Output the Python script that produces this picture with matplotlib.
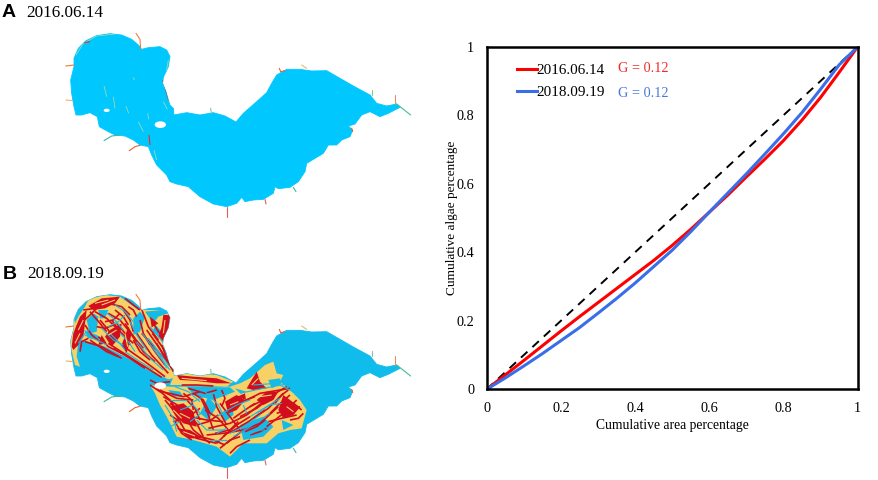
import matplotlib
matplotlib.use('Agg')
import matplotlib.pyplot as plt
from matplotlib.collections import LineCollection
from matplotlib.patches import Ellipse, Polygon
import numpy as np

plt.rcParams['font.family'] = ['Liberation Serif', 'DejaVu Serif']

# Lorenz curves
area_pct = [0, .05, .1, .15, .2, .25, .3, .35, .4, .45, .5, .55, .6, .65, .7, .75, .8, .85, .9, .95, 1]
algae_2016 = [0, .042, .084, .127, .17, .212, .253, .294, .335, .376, .42, .467, .517, .567, .62, .672, .726, .786, .852, .925, 1]
algae_2018 = [0, .033, .068, .104, .142, .18, .222, .265, .31, .358, .406, .46, .517, .573, .629, .687, .746, .808, .876, .947, 1]
equal_line = [0, 1]
ticks = [0, .2, .4, .6, .8, 1]
tick_labels = ['0', '0.2', '0.4', '0.6', '0.8', '1']

# lake, in 3x pixel units of the top panel
lake_x = [222, 235, 258, 290, 330, 365, 395, 415, 425, 445, 480, 500, 510, 505, 490, 488, 498, 505, 510, 520, 522,
          560, 600, 640, 675, 708, 730, 770, 800, 815, 830, 860, 900, 935, 980, 1020, 1060, 1110, 1130, 1160, 1190,
          1200, 1165, 1140, 1110, 1085, 1065, 1045, 1058, 1050, 1025, 1010, 985, 970, 940, 920, 915, 895, 870, 835,
          825, 820, 790, 760, 735, 725, 710, 680, 640, 600, 565, 530, 510, 500, 470, 455, 445, 420, 400, 375, 345,
          325, 298, 292, 270, 245, 228, 222, 215, 212, 222]
lake_y = [175, 145, 122, 107, 101, 105, 118, 135, 148, 143, 140, 150, 170, 200, 232, 250, 275, 300, 315, 325, 345,
          338, 345, 338, 348, 366, 340, 305, 278, 250, 225, 208, 208, 213, 212, 235, 258, 285, 310, 318, 312,
          322, 340, 350, 335, 345, 372, 378, 390, 410, 420, 435, 435, 460, 478, 490, 515, 545, 562, 566,
          560, 580, 598, 600, 605, 592, 610, 620, 612, 590, 560, 552, 545, 525, 495, 465, 440, 435, 420, 408, 405,
          395, 380, 350, 338, 345, 345, 320, 280, 240, 200]
islands = [(320, 331, 18, 10), (481, 374, 34, 20)]
rivers = [[(197, 198), (222, 195)], [(198, 300), (218, 302)], [(312, 422), (335, 408), (360, 405)],
          [(388, 452), (405, 440), (420, 436)], [(408, 100), (420, 118), (422, 148)], [(632, 325), (634, 340)],
          [(838, 205), (842, 215), (855, 212)], [(905, 195), (920, 205)], [(1117, 270), (1117, 285)],
          [(1185, 285), (1185, 312)], [(1190, 312), (1232, 345)], [(1055, 385), (1058, 395)],
          [(880, 562), (888, 575)], [(795, 598), (798, 612)], [(680, 620), (680, 652)]]
river_colors = ['#f07a30', '#f0b060', '#38b8a0', '#e86030', '#e88040', '#80c8a0', '#e86040', '#e0c060',
                '#80c8a0', '#e89060', '#40c090', '#e86030', '#40b8a0', '#e86060', '#e06050']

# 2016 map: algae along the shore and a few streaks
a_red = [[(252, 128), (270, 125)], [(488, 240), (497, 270), (506, 302)], [(415, 120), (420, 140)], [(447, 405), (450, 435)]]
a_yellow = [[(228, 165), (250, 130), (290, 108), (345, 102)], [(312, 258), (320, 290)], [(340, 290), (345, 325)],
            [(378, 318), (386, 340)], [(443, 340), (446, 358)], [(415, 365), (430, 395)], [(490, 305), (502, 328)],
            [(462, 450), (470, 480)], [(400, 232), (403, 240)], [(505, 180), (500, 210)]]

# 2018 map, NW lobe, coords of the zoomed crop (x+195, y+150 to get panel units)
nw_yellow = [[(30, 60), (60, 30), (120, 15), (165, 20), (220, 60), (240, 60), (290, 60), (315, 75), (310, 150), (300, 170),
              (340, 260), (310, 268), (250, 240), (190, 205), (120, 170), (70, 155), (40, 150), (35, 200), (45, 230), (30, 225),
              (15, 160)]]
nw_cyan = [[(65, 90), (85, 70), (100, 80), (95, 125), (75, 130)], [(25, 70), (55, 40), (70, 30), (60, 50), (40, 80), (30, 100)],
           [(205, 85), (225, 65), (240, 80), (225, 125), (205, 135)], [(240, 65), (290, 60), (310, 70), (280, 80), (265, 100)],
           [(272, 105), (290, 125), (280, 138), (262, 125)], [(100, 60), (130, 60), (120, 85), (105, 85)],
           [(58, 120), (95, 135), (120, 150), (70, 145)]]
nw_red = [[(70, 48), (110, 25), (165, 20), (150, 40), (120, 55), (85, 60)], [(20, 170), (25, 130), (45, 80), (65, 60), (60, 100),
           (55, 140), (40, 165), (25, 180)], [(295, 75), (316, 75), (310, 130), (300, 160), (280, 140), (290, 110)],
          [(255, 80), (280, 100), (260, 112)], [(120, 140), (135, 120), (170, 100), (165, 140), (140, 170)],
          [(170, 165), (190, 110), (200, 130), (185, 190)], [(110, 135), (125, 160), (100, 165)]]
nw_red_lines = [[(215, 130), (260, 195), (310, 250)], [(230, 130), (275, 180), (320, 230)], [(245, 120), (280, 170), (310, 215)],
                [(262, 130), (295, 175), (318, 215)], [(170, 165), (240, 215), (300, 260)], [(130, 160), (200, 205), (290, 262)],
                [(100, 140), (130, 170), (170, 190)], [(140, 90), (165, 125), (205, 160)], [(130, 70), (165, 90), (210, 145)],
                [(175, 60), (195, 90), (205, 125)], [(60, 155), (110, 170), (170, 205)], [(150, 60), (175, 80), (190, 105)],
                [(200, 135), (235, 185), (270, 215)], [(225, 45), (250, 110), (280, 150)], [(75, 65), (105, 100), (125, 125)],
                [(95, 110), (120, 115), (145, 105)], [(45, 185), (50, 155), (70, 145)], [(190, 50), (205, 60), (215, 80)],
                [(35, 110), (70, 80), (100, 50)], [(55, 60), (90, 55), (130, 35)], [(30, 140), (50, 110), (60, 75)],
                [(105, 90), (130, 120), (150, 155)], [(90, 65), (125, 85), (155, 115)], [(155, 100), (180, 130), (195, 165)],
                [(180, 100), (205, 140), (235, 175)], [(205, 150), (225, 185), (255, 210)], [(120, 95), (145, 90), (165, 70)],
                [(60, 105), (80, 135), (105, 155)], [(75, 150), (125, 185), (160, 200)], [(145, 175), (195, 205), (240, 235)],
                [(290, 165), (305, 205), (325, 245)], [(275, 160), (295, 195), (320, 235)], [(240, 140), (270, 185), (300, 225)],
                [(225, 90), (235, 130), (255, 165)], [(265, 100), (280, 125), (300, 145)], [(180, 25), (205, 45), (225, 60)],
                [(130, 40), (170, 50), (195, 75)]]
nw_cyan_lines = [[(232, 130), (275, 190), (315, 240)], [(250, 145), (285, 190), (312, 228)], [(215, 155), (255, 205), (295, 240)],
                 [(180, 185), (225, 215), (265, 240)], [(110, 115), (145, 150), (175, 165)], [(150, 45), (180, 65), (205, 95)],
                 [(130, 110), (160, 95), (180, 75)], [(60, 135), (95, 150), (125, 165)], [(165, 130), (190, 155), (210, 185)],
                 [(255, 110), (285, 145), (300, 165)], [(40, 160), (60, 130), (75, 115)], [(135, 130), (160, 155), (180, 180)],
                 [(195, 95), (215, 135), (245, 180)], [(120, 65), (145, 85), (175, 120)], [(265, 165), (290, 205), (305, 235)],
                 [(300, 180), (315, 215)]]
nw_yellow_lines = [[(40, 120), (55, 90)], [(90, 40), (130, 30)], [(300, 90), (295, 130)], [(130, 135), (155, 120)],
                   [(180, 130), (188, 170)], [(30, 160), (45, 130)], [(110, 45), (150, 30)]]

# 2018 map, central part, coords of the other crop (x+450, y+330 to get panel units)
ce_yellow = [[(75, 70), (130, 70), (200, 75), (250, 95), (230, 110), (150, 105), (60, 105)],
             [(0, 105), (60, 110), (150, 110), (240, 110), (270, 100), (300, 85), (345, 45), (370, 35), (380, 70), (400, 75),
              (390, 95), (420, 120), (450, 150), (470, 180), (455, 235), (420, 240), (385, 250), (350, 280), (280, 280),
              (240, 320), (200, 290), (130, 270), (80, 260), (50, 200), (30, 165), (15, 130)]]
ce_cyan = [[(110, 110), (240, 112), (255, 125), (190, 150), (130, 135)], [(270, 225), (340, 200), (370, 230), (340, 260), (280, 270)],
           [(150, 190), (175, 140), (200, 170), (175, 210)], [(355, 90), (390, 85), (395, 100), (365, 115)],
           [(395, 210), (430, 225), (400, 240)], [(255, 115), (290, 125), (270, 130)], [(100, 245), (130, 250), (160, 262), (125, 262)],
           [(210, 190), (250, 170), (250, 195), (225, 215)], [(55, 120), (90, 125), (100, 140), (70, 140)]]
ce_red = [[(80, 75), (130, 80), (200, 85), (245, 100), (200, 100), (130, 92), (90, 90)],
          [(290, 115), (320, 65), (330, 95), (350, 115), (310, 120)],
          [(225, 155), (260, 135), (285, 150), (260, 180), (235, 190)],
          [(320, 150), (350, 125), (385, 125), (370, 150), (340, 165)],
          [(60, 170), (100, 160), (130, 185), (140, 230), (100, 220), (75, 195)],
          [(400, 135), (420, 150), (450, 172), (430, 195), (400, 205), (385, 180)],
          [(80, 235), (120, 240), (160, 265), (120, 265)], [(262, 140), (285, 130), (288, 150)]]
ce_red_lines = [[(40, 140), (90, 170), (140, 220), (160, 260)], [(30, 120), (80, 145), (130, 150)], [(85, 235), (140, 265), (200, 280)],
                [(100, 190), (130, 240), (180, 280)], [(150, 140), (170, 180), (190, 240)], [(190, 130), (200, 170), (230, 225)],
                [(210, 160), (240, 200), (270, 240)], [(175, 235), (240, 220), (290, 195), (340, 155)],
                [(230, 280), (280, 240), (330, 220), (385, 170)], [(220, 260), (260, 225), (300, 200)], [(300, 170), (350, 145), (410, 110)],
                [(350, 230), (400, 190), (450, 170)], [(240, 310), (260, 290), (300, 270)], [(200, 280), (230, 250), (260, 240)],
                [(290, 150), (330, 130), (420, 115)], [(130, 130), (160, 150), (180, 190)], [(120, 200), (170, 210), (220, 215)],
                [(170, 255), (220, 250), (280, 240)], [(60, 130), (100, 140), (150, 125)], [(70, 215), (110, 205), (150, 175)],
                [(380, 190), (410, 180), (440, 150)], [(350, 200), (385, 165), (420, 135)], [(60, 95), (20, 100), (0, 90)],
                [(0, 105), (30, 125), (60, 130)], [(250, 205), (285, 180), (315, 160)], [(60, 195), (90, 215), (110, 250)],
                [(20, 115), (60, 150), (85, 190)], [(60, 160), (100, 190), (125, 225)], [(45, 150), (70, 180), (95, 225)],
                [(75, 215), (95, 250), (125, 270)], [(110, 150), (135, 175), (150, 210)], [(140, 225), (175, 215), (205, 195)],
                [(165, 180), (205, 205), (235, 240)], [(195, 250), (240, 240), (265, 215)], [(245, 245), (295, 215), (345, 180)],
                [(270, 200), (320, 175), (365, 140)], [(310, 205), (355, 175), (400, 130)], [(355, 215), (395, 205), (440, 195)],
                [(400, 165), (430, 160), (455, 180)], [(375, 160), (395, 135), (415, 120)], [(285, 245), (320, 230), (345, 210)],
                [(240, 175), (275, 155), (315, 140)], [(150, 260), (190, 270), (225, 285)], [(210, 295), (240, 270), (270, 260)],
                [(115, 115), (165, 130), (200, 120)], [(95, 105), (140, 105), (190, 108)], [(100, 130), (125, 150), (130, 180)],
                [(215, 120), (225, 145), (215, 170)], [(300, 255), (330, 245), (350, 235)], [(420, 210), (445, 205), (460, 190)]]
ce_cyan_lines = [[(270, 130), (340, 115), (420, 100)], [(120, 160), (180, 130), (230, 135)], [(200, 200), (260, 165), (300, 150)],
                 [(250, 260), (300, 230), (360, 190)], [(140, 210), (170, 240), (220, 240)], [(60, 150), (110, 150)],
                 [(90, 180), (130, 165), (150, 190)], [(300, 200), (350, 170), (390, 145)], [(200, 250), (230, 235)],
                 [(60, 230), (90, 215)], [(180, 270), (230, 270)], [(280, 165), (290, 190)], [(310, 105), (380, 100), (430, 125)],
                 [(45, 165), (70, 205), (80, 245)], [(120, 215), (160, 185)], [(240, 250), (290, 225), (330, 195)],
                 [(165, 125), (205, 165), (225, 205)], [(320, 190), (360, 165), (395, 160)], [(75, 110), (115, 125), (150, 155)],
                 [(280, 265), (320, 240), (345, 240)]]
ce_yellow_lines = [[(90, 190), (120, 205)], [(410, 170), (430, 185)], [(240, 165), (265, 155)], [(95, 85), (170, 92)],
                   [(305, 105), (325, 85)], [(330, 140), (365, 135)], [(70, 180), (95, 205)], [(100, 245), (135, 258)]]

fig = plt.figure(figsize=(8.79, 4.80), dpi=100)

# map layer, same pixel grid x3 so the traced coords go in directly
mp = fig.add_axes([0, 0, 1, 1])
mp.set_xlim(0, 2637)
mp.set_ylim(1440, 0)
mp.axis('off')


def draw_lake(dy, color):
    lake = Polygon(np.column_stack([lake_x, np.array(lake_y) + dy]), closed=True, fc=color, ec=color, lw=.6,
                   joinstyle='round', zorder=1)
    mp.add_patch(lake)
    for r, c in zip(rivers, river_colors):
        rx, ry = zip(*r)
        mp.plot(rx, np.array(ry) + dy, color=c, lw=.8, zorder=2, solid_capstyle='round')
    for x, y, w, h in islands:
        mp.add_patch(Ellipse((x, y + dy), w, h, fc='white', ec='none', zorder=9))
    return lake


lake_a = draw_lake(0, '#00c8ff')
lake_b = draw_lake(783, '#10bcec')

lc = LineCollection(a_yellow, colors='#b0e0a0', linewidths=0.5, zorder=3)
mp.add_collection(lc)
lc.set_clip_path(lake_a)
lc = LineCollection(a_red, colors='#e83020', linewidths=0.8, zorder=4)
mp.add_collection(lc)
lc.set_clip_path(lake_a)


def shift(shapes, ox, oy):
    # crop coords -> map layer (lower panel starts at y=240px, so +720)
    return [[(x + ox, y + oy + 720) for x, y in s] for s in shapes]


def fill(shapes, color, z):
    for poly in shapes:
        p = Polygon(poly, closed=True, fc=color, ec='none', zorder=z)
        mp.add_patch(p)
        p.set_clip_path(lake_b)


def lines(shapes, color, lw, z):
    lc = LineCollection(shapes, colors=color, linewidths=lw, zorder=z)
    mp.add_collection(lc)
    lc.set_clip_path(lake_b)


red = '#d20d1f'
yellow = '#f7d066'
cyan = '#14bbe6'
for ox, oy, yel, cy, rd, rl, cl, yl in [
        (195, 150, nw_yellow, nw_cyan, nw_red, nw_red_lines, nw_cyan_lines, nw_yellow_lines),
        (450, 330, ce_yellow, ce_cyan, ce_red, ce_red_lines, ce_cyan_lines, ce_yellow_lines)]:
    fill(shift(yel, ox, oy), yellow, 2)
    fill(shift(cy, ox, oy), cyan, 3)
    fill(shift(rd, ox, oy), red, 4)
    lines(shift(rl, ox, oy), red, 1.2, 5)
    lines(shift(cl, ox, oy), cyan, .8, 6)
    lines(shift(yl, ox, oy), yellow, .8, 7)

mp.text(5, 51, 'A', family='Liberation Sans', weight='bold', fontsize=14, va='baseline', color='black')
mp.text(80, 50, '2016.06.14', fontsize=12.3, va='baseline', color='black')
mp.text(7, 838, 'B', family='Liberation Sans', weight='bold', fontsize=14, va='baseline', color='black')
mp.text(82, 835, '2018.09.19', fontsize=12.3, va='baseline', color='black')

# Lorenz panel
ax = fig.add_axes([486.7 / 879, 1 - 389.3 / 480, 371 / 879, 342.6 / 480])
ax.plot(equal_line, equal_line, color='black', lw=1.4, ls=(0, (4.5, 3.5)))
ax.plot(area_pct, algae_2016, color='#ff0000', lw=2.2, label='2016.06.14')
ax.plot(area_pct, algae_2018, color='#3a6ee8', lw=2.2, label='2018.09.19')
ax.set_xlim(0, 1)
ax.set_ylim(0, 1)
ax.set_xticks(ticks)
ax.set_xticklabels(tick_labels)
ax.set_yticks(ticks)
ax.set_yticklabels(tick_labels)
ax.tick_params(axis='x', length=0, pad=9, labelsize=10.3)
ax.tick_params(axis='y', length=0, pad=9, labelsize=10.3)
ax.set_xlabel('Cumulative area percentage', fontsize=9.8, labelpad=3)
ax.set_ylabel('Cumulative algae percentage', fontsize=9.5, labelpad=-1)
for s in ax.spines.values():
    s.set_linewidth(1.8)
ax.legend(loc='upper left', bbox_to_anchor=(.081, .95), frameon=False, fontsize=10.9,
          handlelength=1.32, handletextpad=0, labelspacing=.55, borderpad=0, borderaxespad=0)
ax.text(.355, .937, 'G = 0.12', color='#ee2b2b', fontsize=10.3, va='center', transform=ax.transAxes)
ax.text(.355, .862, 'G = 0.12', color='#4a78dc', fontsize=10.3, va='center', transform=ax.transAxes)

fig.savefig('out.png', dpi=100)
